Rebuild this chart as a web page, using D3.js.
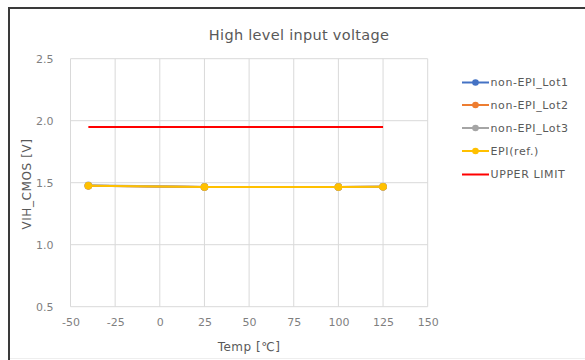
<!DOCTYPE html>
<html><head><meta charset="utf-8">
<script src="https://cdn.jsdelivr.net/npm/d3@7"></script>
<style>body{margin:0;background:#fff}svg{display:block}text{font-family:"DejaVu Sans","Noto Sans",sans-serif}</style>
</head><body>
<svg id="c" width="585" height="360"></svg>
<script>
const temps = [-40, 25, 100, 125];
const lot1 = [1.475, 1.465, 1.465, 1.467];
const lot2 = [1.475, 1.465, 1.465, 1.467];
const lot3 = [1.48, 1.466, 1.466, 1.468];
const epi = [1.475, 1.465, 1.465, 1.467];
const limitTemps = [-40, 125];
const limitValues = [1.95, 1.95];
const seriesNames = ["non-EPI_Lot1", "non-EPI_Lot2", "non-EPI_Lot3", "EPI(ref.)", "UPPER LIMIT"];
const seriesColors = ["#4472c4", "#ed7d31", "#a5a5a5", "#ffc000", "#ff0000"];
const xTicks = [-50, -25, 0, 25, 50, 75, 100, 125, 150];
const yTicks = [0.5, 1.0, 1.5, 2.0, 2.5];

const svg = d3.select("#c");
// frame
svg.append("line").attr("x1", 9).attr("x2", 9).attr("y1", 8).attr("y2", 360).attr("stroke", "#3a3a3a").attr("stroke-width", 2);
svg.append("line").attr("x1", 8).attr("x2", 585).attr("y1", 8).attr("y2", 8).attr("stroke", "#3a3a3a").attr("stroke-width", 2);
svg.append("line").attr("x1", 10).attr("x2", 585).attr("y1", 358.5).attr("y2", 358.5).attr("stroke", "#eeeeee").attr("stroke-width", 1);

const x = d3.scaleLinear().domain([-50, 150]).range([70.5, 427.7]);
const y = d3.scaleLinear().domain([0.5, 2.5]).range([306.7, 58.7]);

// grid
const g = svg.append("g");
g.selectAll(".vg").data(xTicks).join("line")
  .attr("x1", d => x(d)).attr("x2", d => x(d)).attr("y1", y(2.5)).attr("y2", y(0.5))
  .attr("stroke", "#d9d9d9").attr("stroke-width", 1);
g.selectAll(".hg").data(yTicks).join("line")
  .attr("x1", x(-50)).attr("x2", x(150)).attr("y1", d => y(d)).attr("y2", d => y(d))
  .attr("stroke", "#d9d9d9").attr("stroke-width", 1);

// axes
const xa = svg.append("g").attr("transform", `translate(0,${y(0.5)})`)
  .call(d3.axisBottom(x).tickValues(xTicks).tickSize(0).tickPadding(12).tickFormat(d => d));
const ya = svg.append("g").attr("transform", `translate(${x(-50)},0)`)
  .call(d3.axisLeft(y).tickValues(yTicks).tickSize(0).tickPadding(17).tickFormat(d3.format(".1f")));
[xa, ya].forEach(a => {
  a.select(".domain").remove();
  a.selectAll("text").attr("fill", "#7f7f7f").style("font-size", "11px").style("font-family", "DejaVu Sans");
});

// title & axis titles
svg.append("text").attr("x", 299).attr("y", 40).attr("text-anchor", "middle")
  .attr("fill", "#595959").style("font-size", "14.5px").style("letter-spacing", "0.3px").text("High level input voltage");
svg.append("text").attr("x", 249).attr("y", 351).attr("text-anchor", "middle")
  .attr("fill", "#595959").style("font-size", "12px").style("letter-spacing", "0.5px").text("Temp [℃]");
svg.append("text").attr("transform", "translate(31,184) rotate(-90)").attr("text-anchor", "middle")
  .attr("fill", "#595959").style("font-size", "12px").style("letter-spacing", "0.6px").text("VIH_CMOS [V]");

// series
const line = d3.line().x(d => x(d[0])).y(d => y(d[1]));
const dataSeries = [lot1, lot2, lot3, epi];
dataSeries.forEach((vals, i) => {
  const pts = temps.map((t, j) => [t, vals[j]]);
  svg.append("path").attr("d", line(pts)).attr("fill", "none")
    .attr("stroke", seriesColors[i]).attr("stroke-width", 2);
  svg.append("g").selectAll("circle").data(pts).join("circle")
    .attr("cx", d => x(d[0])).attr("cy", d => y(d[1])).attr("r", 3.8)
    .attr("fill", seriesColors[i]);
});
svg.append("path").attr("d", line(limitTemps.map((t, j) => [t, limitValues[j]])))
  .attr("fill", "none").attr("stroke", seriesColors[4]).attr("stroke-width", 2);

// legend
const ly = [82.5, 105, 128, 151, 174.5];
const lg = svg.append("g");
seriesNames.forEach((n, i) => {
  lg.append("line").attr("x1", 462).attr("x2", 489).attr("y1", ly[i]).attr("y2", ly[i])
    .attr("stroke", seriesColors[i]).attr("stroke-width", 2);
  if (i < 4) lg.append("circle").attr("cx", 475.5).attr("cy", ly[i]).attr("r", 3.3).attr("fill", seriesColors[i]);
  lg.append("text").attr("x", 490.5).attr("y", ly[i]).attr("dy", "0.35em")
    .attr("fill", "#595959").style("font-size", "11px").style("letter-spacing", "0.6px").text(n);
});
</script>
</body></html>
